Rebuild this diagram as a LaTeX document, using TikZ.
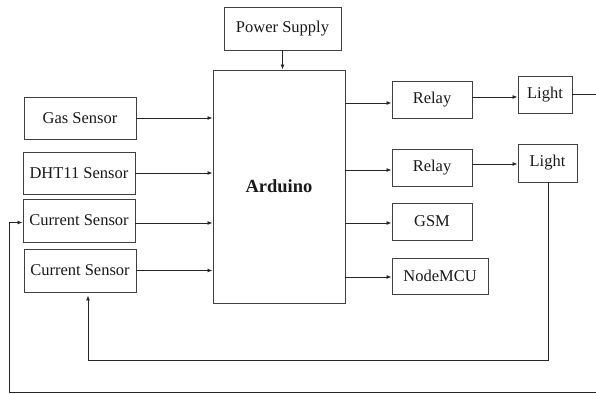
\documentclass[tikz,border=0pt]{standalone}
\usepackage{fontspec}
\setmainfont{Liberation Serif}
\usetikzlibrary{arrows.meta,calc}
\begin{document}
\begin{tikzpicture}[x=1pt,y=-1pt,
  blk/.style={draw=black!75, line width=0.95pt, rectangle, inner sep=0pt, font=\fontsize{16.5}{19}\selectfont, text=black!90},
  conn/.style={draw=black!85, line width=0.85pt},
  arr/.style={conn, -{Latex[length=5pt,width=4pt]}}]
\useasboundingbox (0,0) rectangle (596,393);
% boxes (centres and sizes from the reference)
\node[blk, minimum width=117pt, minimum height=43pt] (ps)  at (282.5,28.5) {Power Supply};
\node[blk, minimum width=132pt, minimum height=233pt, font=\fontsize{18.5}{21}\selectfont\bfseries] (ard) at (279,186.5) {Arduino};
\node[blk, minimum width=112pt, minimum height=42pt] (gas) at (80,118) {Gas Sensor};
\node[blk, minimum width=112pt, minimum height=42pt] (dht) at (79,173) {DHT11 Sensor};
\node[blk, minimum width=112pt, minimum height=43pt] (csa) at (79,220.5) {Current Sensor};
\node[blk, minimum width=112pt, minimum height=43pt] (csb) at (80,270.5) {Current Sensor};
\node[blk, minimum width=80pt, minimum height=37pt] (ra) at (432,99.5) {Relay};
\node[blk, minimum width=54pt, minimum height=37pt] (la) at (545,94.5) {Light};
\node[blk, minimum width=80pt, minimum height=37pt] (rb) at (432,167.5) {Relay};
\node[blk, minimum width=59pt, minimum height=38pt] (lb) at (547.5,163) {Light};
\node[blk, minimum width=80pt, minimum height=37pt] (gsm) at (432,221.5) {GSM};
\node[blk, minimum width=96pt, minimum height=36pt] (mcu) at (440,276) {NodeMCU};
% free ends / bends
\coordinate (ea) at (596,94.5);
\coordinate (eb) at (596,392);
\coordinate (bl) at (9,392);
\coordinate (ml) at (548,360);
\coordinate (mr) at (88,360);
% connectors
\draw[arr] (ps.south) -- (ps.south |- ard.north);
\draw[arr] (gas.east) -- (gas.east -| ard.west);
\draw[arr] (dht.east) -- (dht.east -| ard.west);
\draw[arr] ([yshift=-2.5pt]csa.east) -- ([yshift=-2.5pt]csa.east -| ard.west);
\draw[arr] (csb.east) -- (csb.east -| ard.west);
\draw[arr] ([yshift=-3.5pt]ra.west -| ard.east) -- ([yshift=-3.5pt]ra.west);
\draw[arr] ([yshift=-2.5pt]rb.west -| ard.east) -- ([yshift=-2.5pt]rb.west);
\draw[arr] ([yshift=-1.5pt]gsm.west -| ard.east) -- ([yshift=-1.5pt]gsm.west);
\draw[arr] ([yshift=-1pt]mcu.west -| ard.east) -- ([yshift=-1pt]mcu.west);
\draw[arr] ([yshift=2.5pt]ra.east) -- ([yshift=2.5pt]ra.east -| la.west);
\draw[arr] ([yshift=3.5pt]rb.east) -- ([yshift=3.5pt]rb.east -| lb.west);
\draw[conn] (la.east) -- (ea);
\draw[arr, shorten >=3pt] (lb.south -| ml) -- (ml) -- (mr) -- (mr |- csb.south);
\draw[arr] (eb) -- (bl) -- ([yshift=-2pt]bl |- csa.west) -- ([yshift=-2pt]csa.west);
\end{tikzpicture}
\end{document}
